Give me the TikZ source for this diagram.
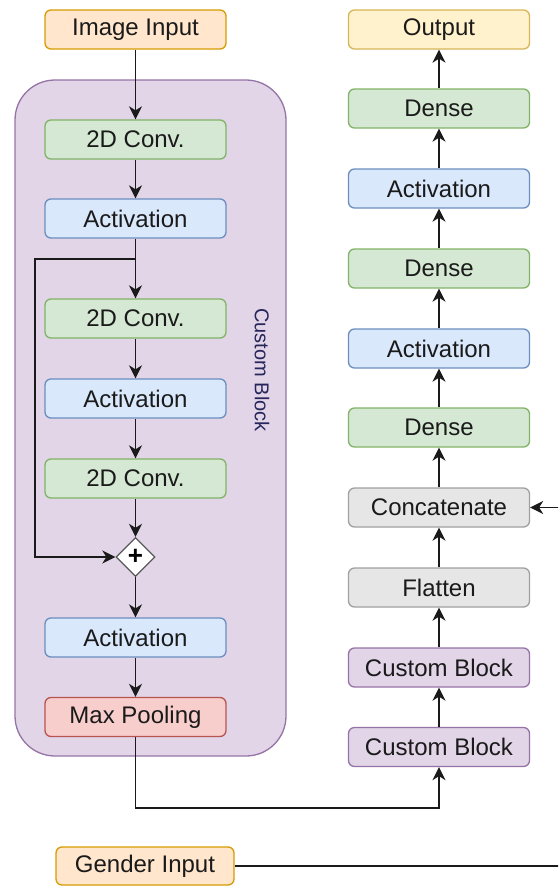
\documentclass[tikz,border=0pt]{standalone}
\usepackage{fontspec}
\setmainfont{Liberation Sans}
\usetikzlibrary{arrows.meta,shapes.geometric}

\definecolor{orangeF}{HTML}{FFE6CC}\definecolor{orangeD}{HTML}{D79B00}
\definecolor{yellowF}{HTML}{FFF2CC}\definecolor{yellowD}{HTML}{D6B656}
\definecolor{greenF}{HTML}{D5E8D4}\definecolor{greenD}{HTML}{82B366}
\definecolor{blueF}{HTML}{DAE8FC}\definecolor{blueD}{HTML}{6C8EBF}
\definecolor{purpleF}{HTML}{E1D5E7}\definecolor{purpleD}{HTML}{9673A6}
\definecolor{redF}{HTML}{F8CECC}\definecolor{redD}{HTML}{B85450}
\definecolor{grayF}{HTML}{E6E6E6}\definecolor{grayD}{HTML}{A0A0A0}
\definecolor{inkT}{HTML}{1A1A1A}
\definecolor{labelT}{HTML}{26265C}

\begin{document}
\begin{tikzpicture}[x=1pt,y=-1pt,
  blk/.style={draw, rounded corners=6pt, line width=1.3pt, minimum width=181pt,
    minimum height=39pt, inner sep=0pt, text=inkT, font=\fontsize{24}{28}\selectfont},
  inputbox/.style={blk, fill=orangeF, draw=orangeD},
  outputbox/.style={blk, fill=yellowF, draw=yellowD},
  convbox/.style={blk, fill=greenF, draw=greenD},
  actbox/.style={blk, fill=blueF, draw=blueD},
  cbbox/.style={blk, fill=purpleF, draw=purpleD},
  poolbox/.style={blk, fill=redF, draw=redD},
  graybox/.style={blk, fill=grayF, draw=grayD},
  arr/.style={-{Stealth[length=13pt,width=13pt,inset=4pt]}, line width=1.9pt, draw=inkT}]

\clip (0,0) rectangle (558,886);

% custom block container
\node[draw=purpleD, fill=purpleF, line width=1.3pt, rounded corners=40pt,
  minimum width=271pt, minimum height=676pt, inner sep=0pt] (container) at (150.5,418) {};
\node[rotate=-90, text=labelT, font=\fontsize{20}{24}\selectfont] (cblabel) at (262,370) {Custom Block};

% left column
\node[inputbox] (img) at (135.5,29.5) {Image Input};
\node[convbox] (conv1) at (135.5,139.5) {2D Conv.};
\node[actbox] (act1) at (135.5,218.5) {Activation};
\node[convbox] (conv2) at (135.5,318.5) {2D Conv.};
\node[actbox] (act2) at (135.5,398.5) {Activation};
\node[convbox] (conv3) at (135.5,478.5) {2D Conv.};
\node[diamond, draw=black!65, fill=white, line width=1.3pt, minimum width=39pt,
  minimum height=39pt, inner sep=0pt, text=black,
  font=\fontsize{26}{26}\selectfont\bfseries] (plus) at (135.5,557) {+};
\node[actbox] (act3) at (135.5,637.5) {Activation};
\node[poolbox] (pool) at (135.5,717) {Max Pooling};

\node[inputbox, minimum width=178pt, minimum height=38pt] (gender) at (145,866) {Gender Input};

% right column
\node[outputbox] (out) at (439,29.5) {Output};
\node[convbox] (dense3) at (439,108.5) {Dense};
\node[actbox] (actb) at (439,188.5) {Activation};
\node[convbox] (dense2) at (439,268.5) {Dense};
\node[actbox] (acta) at (439,348.5) {Activation};
\node[convbox] (dense1) at (439,427.5) {Dense};
\node[graybox] (concat) at (439,507.5) {Concatenate};
\node[graybox] (flat) at (439,587.5) {Flatten};
\node[cbbox] (cb2) at (439,667.5) {Custom Block};
\node[cbbox] (cb1) at (439,747) {Custom Block};

% connectors, left column
\draw[arr] (img) -- (conv1);
\draw[arr] (conv1) -- (act1);
\draw[arr] (act1) -- (conv2);
\draw[arr] (conv2) -- (act2);
\draw[arr] (act2) -- (conv3);
\draw[arr] (conv3) -- (plus);
\draw[arr] (plus) -- (act3);
\draw[arr] (act3) -- (pool);

% residual skip
\coordinate (skA) at (135.5,259);
\coordinate (skB) at (35,259);
\draw[arr] (skA) -- (skB) |- (plus.west);

% block output into the right column
\coordinate (bend) at (439,808);
\draw[arr] (pool.south) |- (bend) -- (cb1.south);

% right column
\draw[arr] (cb1) -- (cb2);
\draw[arr] (cb2) -- (flat);
\draw[arr] (flat) -- (concat);
\draw[arr] (concat) -- (dense1);
\draw[arr] (dense1) -- (acta);
\draw[arr] (acta) -- (dense2);
\draw[arr] (dense2) -- (actb);
\draw[arr] (actb) -- (dense3);
\draw[arr] (dense3) -- (out);

% gender input routed round the right edge into the concatenation
\coordinate (gr) at (566,866);
\draw[arr] (gender.east) -- (gr) |- (concat.east);
\end{tikzpicture}
\end{document}
